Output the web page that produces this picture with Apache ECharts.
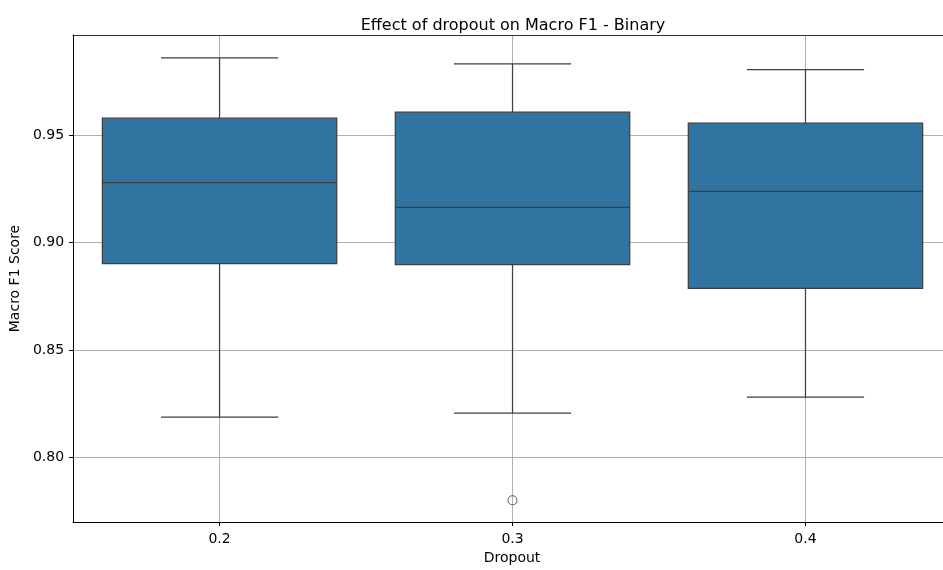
<!DOCTYPE html>
<html>
<head>
<meta charset="utf-8">
<script src="https://cdn.jsdelivr.net/npm/echarts@6/dist/echarts.min.js"></script>
<style>html,body{margin:0;padding:0;background:#fff;overflow:hidden}#c{width:943px;height:570px}</style>
</head>
<body>
<div id="c"></div>
<script>
const categories = ['0.2', '0.3', '0.4'];
const whiskerLow = [0.8189, 0.8207, 0.8281];
const q1Values = [0.8902, 0.8897, 0.8787];
const medians = [0.9279, 0.9164, 0.9238];
const q3Values = [0.9578, 0.9606, 0.9555];
const whiskerHigh = [0.9859, 0.9831, 0.9804];
const outliers = [['0.3', 0.7802]];
const yTicks = [0.80, 0.85, 0.90, 0.95];

const FONT = 'DejaVu Sans';
const catIdx = categories.map((c, i) => i);
const boxData = categories.map((c, i) => [i, whiskerLow[i], q1Values[i], medians[i], q3Values[i], whiskerHigh[i]]);
const outlierData = outliers.map(o => [categories.indexOf(o[0]), o[1]]);

const chart = echarts.init(document.getElementById('c'), null, {renderer: 'canvas'});
const lineStyle = {stroke: '#3f3f3f', lineWidth: 1.25};
// visible x range: the original axes extend slightly beyond the right edge of the picture
const X_MIN = -0.5, X_MAX = 2.4694;

chart.setOption({
  animation: false,
  backgroundColor: '#fff',
  title: {
    text: 'Effect of dropout on Macro F1 - Binary',
    left: 508, top: 13, textAlign: 'center',
    textStyle: {fontFamily: FONT, fontSize: 16, fontWeight: 'normal', color: '#000'}
  },
  grid: {left: 70, top: 35, right: 0, bottom: 43, containLabel: false},
  xAxis: [{
    type: 'value', min: X_MIN, max: X_MAX,
    name: 'Dropout', nameLocation: 'middle', nameGap: 29,
    nameTextStyle: {fontFamily: FONT, fontSize: 14, color: '#000', padding: [0, 0, 0, 8]},
    axisLine: {show: true, onZero: false, lineStyle: {color: '#000', width: 1}},
    axisTick: {show: true, length: 4, lineStyle: {color: '#000'}, customValues: catIdx},
    axisLabel: {fontFamily: FONT, fontSize: 14, color: '#000', margin: 10, customValues: catIdx,
      formatter: v => categories[Math.round(v)]},
    splitLine: {show: true, lineStyle: {color: '#b0b0b0', width: 1}}
  }, {
    type: 'value', position: 'top', min: X_MIN, max: X_MAX,
    axisLine: {show: true, onZero: false, lineStyle: {color: '#333', width: 1.2}},
    axisTick: {show: false}, axisLabel: {show: false}, splitLine: {show: false}
  }],
  yAxis: {
    type: 'value', min: 0.7701, max: 0.9965,
    name: 'Macro F1 Score', nameLocation: 'middle', nameGap: 42,
    nameTextStyle: {fontFamily: FONT, fontSize: 14, color: '#000'},
    axisLine: {show: true, onZero: false, lineStyle: {color: '#000', width: 1}},
    axisTick: {show: true, length: 4, lineStyle: {color: '#000'}, customValues: yTicks},
    axisLabel: {fontFamily: FONT, fontSize: 14, color: '#000', margin: 9, customValues: yTicks,
      formatter: v => v.toFixed(2)},
    splitLine: {show: true, lineStyle: {color: '#b0b0b0', width: 1}}
  },
  series: [{
    type: 'custom',
    xAxisIndex: 0,
    data: boxData,
    encode: {x: 0, y: [1, 2, 3, 4, 5]},
    clip: false,
    renderItem: function (params, api) {
      const x = api.value(0);
      const band = api.size([1, 0])[0];
      const hw = band * 0.4, cw = band * 0.2;
      const pL = api.coord([x, api.value(1)]);
      const p1 = api.coord([x, api.value(2)]);
      const pM = api.coord([x, api.value(3)]);
      const p3 = api.coord([x, api.value(4)]);
      const pH = api.coord([x, api.value(5)]);
      const cx = pM[0];
      return {
        type: 'group',
        children: [
          {type: 'line', shape: {x1: cx, y1: pL[1], x2: cx, y2: p1[1]}, style: lineStyle},
          {type: 'line', shape: {x1: cx, y1: p3[1], x2: cx, y2: pH[1]}, style: lineStyle},
          {type: 'line', shape: {x1: cx - cw, y1: pL[1], x2: cx + cw, y2: pL[1]}, style: lineStyle},
          {type: 'line', shape: {x1: cx - cw, y1: pH[1], x2: cx + cw, y2: pH[1]}, style: lineStyle},
          {type: 'rect', shape: {x: cx - hw, y: p3[1], width: hw * 2, height: p1[1] - p3[1]},
            style: {fill: '#3274a1', stroke: '#3f3f3f', lineWidth: 1.25}},
          {type: 'line', shape: {x1: cx - hw, y1: pM[1], x2: cx + hw, y2: pM[1]}, style: lineStyle}
        ]
      };
    }
  }, {
    type: 'scatter',
    xAxisIndex: 0,
    data: outlierData,
    symbol: 'circle', symbolSize: 9,
    itemStyle: {color: 'rgba(0,0,0,0)', borderColor: '#3f3f3f', borderWidth: 1.1}
  }]
});
</script>
</body>
</html>
